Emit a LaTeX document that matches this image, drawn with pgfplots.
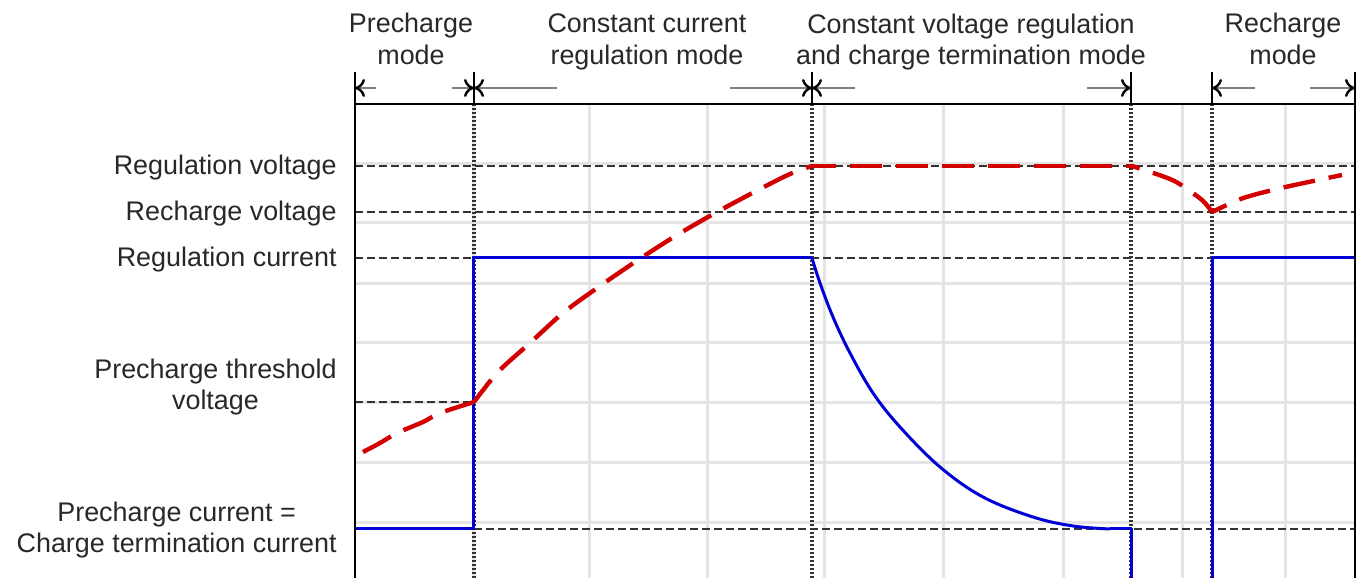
\documentclass[border=0pt]{standalone}
\usepackage{fontspec}
\setmainfont{Liberation Sans}
\usepackage{pgfplots}
\pgfplotsset{compat=1.18}
\usetikzlibrary{arrows.meta}

\definecolor{vred}{RGB}{210,0,0}
\definecolor{iblue}{RGB}{0,0,215}
\definecolor{gridgray}{RGB}{228,228,228}
\definecolor{txt}{RGB}{40,40,40}

\begin{document}
\begin{tikzpicture}[
  lbl/.style={font=\fontsize{13.5}{16}\selectfont, text=txt, inner sep=0pt, align=center},
  ref/.style={black!80, line width=1.4bp, dash pattern=on 4bp off 2bp},
  div/.style={black!80, line width=1.8bp, dash pattern=on 1.2bp off 0.8bp},
  dim/.style={black!50, line width=1.2bp, -{To[length=5bp,width=9bp,color=black]}},
  cur/.style={iblue, line width=1.5bp, line join=round},
  volt/.style={vred, line width=2.2bp, dash pattern=on 16bp off 7bp},
]
\begin{axis}[
  scale only axis, width=500bp, height=237bp,
  xmin=0, xmax=100, ymin=0, ymax=47.4,
  clip=false,
  axis line style={draw=none},
  tick style={draw=none},
  xtick={11.9,23.5,35.3,47.0,58.8,70.8,82.7,93.0},
  ytick={5.5,11.5,17.5,23.5,29.4,35.5,41.4},
  xticklabels={}, yticklabels={},
  major tick length=0pt,
  grid=major,
  major grid style={draw=gridgray, line width=1.5bp},
]
% reference levels
\addplot[ref] coordinates {(0,41.2) (100,41.2)};
\addplot[ref] coordinates {(0,36.6) (100,36.6)};
\addplot[ref] coordinates {(0,32.0) (100,32.0)};
\addplot[ref] coordinates {(0,17.6) (11.9,17.6)};
\addplot[ref] coordinates {(11.9,4.9) (100,4.9)};
% mode boundaries
\addplot[div] coordinates {(11.9,0) (11.9,47.4)};
\addplot[div] coordinates {(45.7,0) (45.7,47.4)};
\addplot[div] coordinates {(77.6,0) (77.6,47.4)};
\addplot[div] coordinates {(85.7,0) (85.7,47.4)};

% charge current
\addplot[cur] coordinates {(0,4.9) (11.9,4.9) (11.9,32.0) (45.7,32.0)};
\addplot[cur, smooth, tension=0.6] coordinates {
  (45.7,32.0) (46.5,29.5) (47.8,26.1) (49.5,22.5) (51.8,18.5) (54.5,15.1)
  (58.5,11.1) (62.8,8.1) (67.8,6.1) (71.8,5.2) (75.5,4.9)
};
\addplot[cur] coordinates {(75.5,4.9) (77.6,4.9) (77.6,0)};
\addplot[cur] coordinates {(85.7,0) (85.7,32.0) (100,32.0)};

% battery voltage
\addplot[volt, smooth, tension=0.4] coordinates {
  (0.8,12.6) (2.5,13.5) (4.2,14.5) (6.8,15.6) (8.5,16.5) (11.9,17.6)
};
\addplot[volt, smooth, tension=0.5, dash phase=2bp] coordinates {
  (11.9,17.6) (14.3,20.6) (17.5,23.5) (20.8,26.5) (24.5,29.2) (28.3,31.8)
  (32.2,34.3) (36.2,36.6) (40.5,38.9) (43.5,40.4) (45.7,41.2)
};
\addplot[volt, dash phase=4bp] coordinates {(45.7,41.2) (77.7,41.2)};
\addplot[volt, smooth, tension=0.5, dash phase=12bp] coordinates {
  (77.7,41.2) (80.7,40.2) (82.3,39.5) (84.7,37.8) (85.7,36.6)
};
\addplot[volt, smooth, tension=0.5, dash phase=8bp] coordinates {
  (85.7,36.6) (88.3,37.8) (90.2,38.4) (93.5,39.2) (98.7,40.3)
};

% frame
\draw[black, line width=0.8bp] (axis cs:0,0) -- (axis cs:0,50.6);
\draw[black, line width=0.8bp] (axis cs:100,0) -- (axis cs:100,50.6);
\draw[black, line width=0.8bp] (axis cs:0,47.4) -- (axis cs:100,47.4);
\draw[black, line width=1bp] (axis cs:11.9,47.4) -- (axis cs:11.9,50.6);
\draw[black, line width=1bp] (axis cs:45.7,47.4) -- (axis cs:45.7,50.6);
\draw[black, line width=1bp] (axis cs:77.6,47.4) -- (axis cs:77.6,50.6);
\draw[black, line width=1bp] (axis cs:85.7,47.4) -- (axis cs:85.7,50.6);

% mode spans
\draw[dim] (axis cs:2.1,49) -- (axis cs:0,49);
\draw[dim] (axis cs:9.7,49) -- (axis cs:11.9,49);
\draw[dim] (axis cs:20.2,49) -- (axis cs:11.9,49);
\draw[dim] (axis cs:37.5,49) -- (axis cs:45.7,49);
\draw[dim] (axis cs:50.0,49) -- (axis cs:45.7,49);
\draw[dim] (axis cs:73.2,49) -- (axis cs:77.6,49);
\draw[dim] (axis cs:90.0,49) -- (axis cs:85.7,49);
\draw[dim] (axis cs:95.5,49) -- (axis cs:100,49);

% mode names
\node[lbl] at (axis cs:5.6,53.9) {Precharge\\mode};
\node[lbl] at (axis cs:29.2,53.6) {Constant current\\regulation mode};
\node[lbl] at (axis cs:61.6,53.6) {Constant voltage regulation\\and charge termination mode};
\node[lbl] at (axis cs:92.8,53.9) {Recharge\\mode};

% level names
\node[lbl, anchor=mid east] at (axis cs:-1.8,40.9) {Regulation voltage};
\node[lbl, anchor=mid east] at (axis cs:-1.8,36.3) {Recharge voltage};
\node[lbl, anchor=mid east] at (axis cs:-1.8,31.7) {Regulation current};
\node[lbl, anchor=east] at (axis cs:-1.8,19.1) {Precharge threshold\\voltage};
\node[lbl, anchor=east] at (axis cs:-1.8,4.8) {Precharge current =\\Charge termination current};

\coordinate (bl) at (axis cs:-35.5,0);
\coordinate (tr) at (axis cs:100.4,57.8);
\end{axis}
\pgfresetboundingbox
\path[use as bounding box] (bl) rectangle (tr);
\end{tikzpicture}
\end{document}
